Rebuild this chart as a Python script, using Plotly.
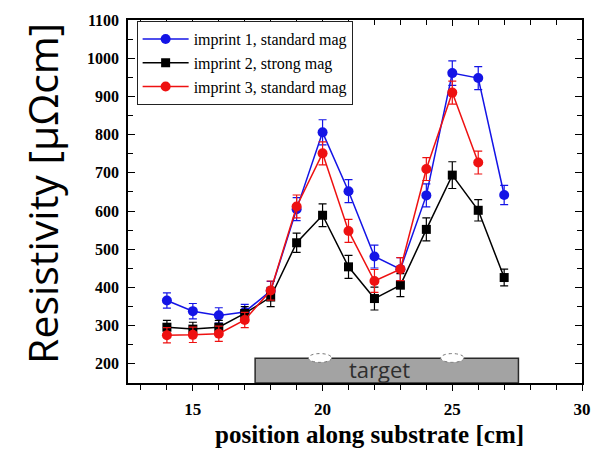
import plotly.graph_objects as go

# ---- data ----
positions = [14, 15, 16, 17, 18, 19, 20, 21, 22, 23, 24, 25, 26, 27]
imprint1 = [366, 338, 327, 336, 391, 605, 806, 652, 481, 448, 641, 961, 948, 642]
imprint1_err = [20, 20, 20, 20, 25, 30, 33, 30, 30, 30, 30, 32, 30, 25]
imprint2 = [296, 291, 296, 332, 375, 517, 589, 454, 371, 406, 552, 694, 602, 426]
imprint2_err = [18, 18, 18, 18, 25, 25, 30, 30, 30, 30, 30, 35, 28, 22]
positions3 = [14, 15, 16, 17, 18, 19, 20, 21, 22, 23, 24, 25, 26]
imprint3 = [275, 276, 279, 315, 392, 612, 751, 548, 417, 448, 710, 910, 727]
imprint3_err = [20, 20, 20, 20, 25, 30, 30, 30, 30, 30, 30, 30, 30]

series_names = ["imprint 1, standard mag", "imprint 2, strong mag", "imprint 3, standard mag"]
series_colors = ["#1414e6", "#000000", "#ee1111"]
series_symbols = ["circle", "square", "circle"]

target_x = [17.4, 27.55]
target_y = [150, 215]
target_label = "target"
ellipse_centers = [19.9, 25.0]

x_ticks = [15, 20, 25, 30]
y_ticks = [200, 300, 400, 500, 600, 700, 800, 900, 1000, 1100]
x_title = "position along substrate [cm]"
y_title = "Resistivity [μΩcm]"

fig = go.Figure()

data_sets = [
    (positions, imprint1, imprint1_err),
    (positions, imprint2, imprint2_err),
    (positions3, imprint3, imprint3_err),
]
for (xs, ys, es), name, col, sym in zip(data_sets, series_names, series_colors, series_symbols):
    fig.add_trace(go.Scatter(
        x=xs, y=ys, name=name, mode="lines+markers",
        line=dict(color=col, width=1.5),
        marker=dict(color=col, symbol=sym, size=10 if sym == "circle" else 9),
        error_y=dict(type="data", array=es, visible=True, color=col, thickness=1.2, width=4),
    ))

# invisible trace to activate top mirror axis
fig.add_trace(go.Scatter(x=[20], y=[600], xaxis="x2", mode="markers",
                         marker=dict(opacity=0), showlegend=False, hoverinfo="skip"))

# target rectangle
fig.add_shape(type="rect", x0=target_x[0], x1=target_x[1], y0=target_y[0], y1=target_y[1],
              xref="x", yref="y", fillcolor="#a3a3a3", line=dict(color="#2a2a2a", width=1.5),
              layer="below")
for cx in ellipse_centers:
    fig.add_shape(type="circle", x0=cx - 0.45, x1=cx + 0.45, y0=target_y[1] - 11, y1=target_y[1] + 12,
                  xref="x", yref="y", fillcolor="white",
                  line=dict(color="#777777", width=1, dash="dot"), layer="below")
fig.add_annotation(x=(target_x[0] + target_x[1]) / 2 - 0.3, y=186, text=target_label, showarrow=False,
                   font=dict(family="Open Sans", size=22, color="#2e2e2e"))

serif = "Liberation Serif"
# axis titles as annotations for precise placement
fig.add_annotation(xref="paper", yref="paper", x=0.532, y=-0.142, yanchor="middle", xanchor="center",
                   text=x_title, showarrow=False,
                   font=dict(family=serif, size=25, color="black", weight="bold"))
fig.add_annotation(xref="paper", yref="paper", x=-0.19, y=0.523, xanchor="center", yanchor="middle",
                   text=y_title, showarrow=False, textangle=-90,
                   font=dict(family="Open Sans", size=41, color="black"))

fig.update_layout(
    width=603, height=449,
    margin=dict(l=128, r=16, t=14, b=66),
    plot_bgcolor="white", paper_bgcolor="white",
    showlegend=True,
    legend=dict(x=0.019, y=0.997, xanchor="left", yanchor="top",
                bgcolor="white", bordercolor="#222222", borderwidth=1,
                font=dict(family=serif, size=16, color="black"),
                tracegroupgap=0, itemwidth=46),
    xaxis=dict(range=[12.5, 30], tickvals=x_ticks, ticks="outside", ticklen=6, tickwidth=1.3,
               tickcolor="black", showline=True, linecolor="black", linewidth=1.5, mirror=True,
               showgrid=False, zeroline=False, ticklabelstandoff=4,
               minor=dict(dtick=1, tick0=0, ticks="outside", ticklen=5, tickcolor="black", showgrid=False),
               tickfont=dict(family=serif, size=17, color="black", weight="bold")),
    xaxis2=dict(range=[12.5, 30], overlaying="x", side="top", anchor="y", tickvals=x_ticks,
                ticks="inside", ticklen=6, tickcolor="black", showticklabels=False,
                showgrid=False, zeroline=False, showline=False,
                minor=dict(dtick=1, tick0=0, ticks="inside", ticklen=5, tickcolor="black", showgrid=False)),
    yaxis=dict(range=[150, 1100], tickvals=y_ticks, ticks="inside", ticklen=7, tickwidth=1.3,
               tickcolor="black", showline=True, linecolor="black", linewidth=1.5, mirror="ticks",
               showgrid=False, zeroline=False,
               minor=dict(dtick=50, tick0=0, ticks="inside", ticklen=5, tickcolor="black", showgrid=False),
               tickfont=dict(family=serif, size=16, color="black", weight="bold"),
               ticklabelstandoff=4),
)

fig.write_html("out.html")
